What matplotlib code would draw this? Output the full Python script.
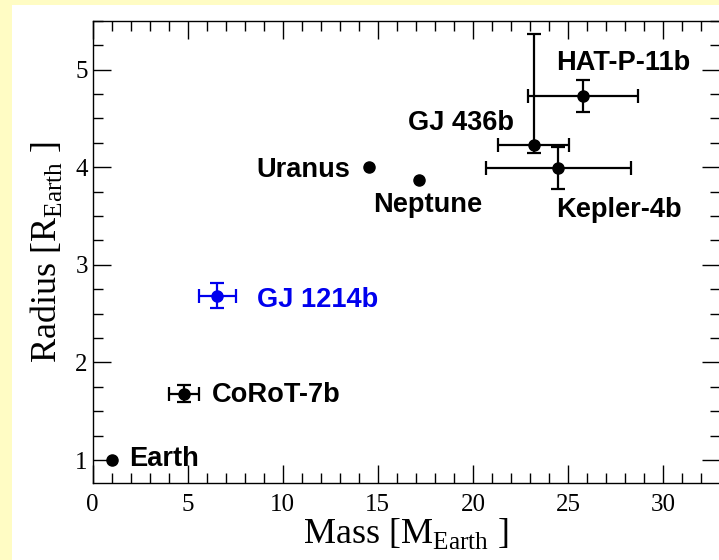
import numpy as np
import matplotlib
matplotlib.use("Agg")
import matplotlib.pyplot as plt
from matplotlib.patches import Rectangle
from matplotlib.ticker import MultipleLocator

plt.rcParams['font.family'] = 'Liberation Serif'
plt.rcParams['mathtext.fontset'] = 'custom'
plt.rcParams['mathtext.rm'] = 'Liberation Serif'

# planets: mass [M_Earth], radius [R_Earth] and errors
names = ["Earth", "CoRoT-7b", "GJ 1214b", "Uranus", "Neptune", "GJ 436b", "HAT-P-11b", "Kepler-4b"]
mass = [1.0, 4.8, 6.55, 14.54, 17.15, 23.2, 25.8, 24.5]
mass_err = [0, 0.8, 0.98, 0, 0, 1.87, 2.88, 3.8]
radius = [1.0, 1.68, 2.68, 4.0, 3.87, 4.23, 4.73, 3.99]
radius_err_lo = [0, 0.09, 0.12, 0, 0, 0.09, 0.16, 0.21]
radius_err_hi = [0, 0.09, 0.13, 0, 0, 1.13, 0.16, 0.22]
colors = ["k", "k", "#0000ee", "k", "k", "k", "k", "k"]
# where each name is written (left edge, baseline)
label_x = [1.91, 6.29, 8.66, 8.59, 14.74, 16.59, 24.37, 24.37]
label_y = [0.94, 1.597, 2.569, 3.90, 3.54, 4.38, 4.99, 3.49]

fig = plt.figure(figsize=(7.19, 5.6), dpi=100)
fig.patch.set_facecolor("#fffcc4")
fig.patches.append(Rectangle((12/719, 0), 1, 1-5/560, transform=fig.transFigure,
                             facecolor="white", edgecolor="none", zorder=-10))
ax = fig.add_axes([92.7/719, 1-483/560, (720-92.7)/719, (483-20.7)/560])

for i in range(len(names)):
    if mass_err[i] > 0:
        ax.errorbar(mass[i], radius[i], xerr=mass_err[i],
                    yerr=[[radius_err_lo[i]], [radius_err_hi[i]]],
                    fmt="o", color=colors[i], ms=8, elinewidth=1.6,
                    capsize=5, capthick=1.6)
    else:
        ax.plot(mass[i], radius[i], "o", color=colors[i], ms=8)
    ax.text(label_x[i], label_y[i], names[i], color=colors[i], fontsize=19.6,
            fontweight="bold", family="Liberation Sans", va="baseline", ha="left")

ax.set_xlim(0, 33)
ax.set_ylim(0.765, 5.5)
ax.xaxis.set_major_locator(MultipleLocator(5))
ax.xaxis.set_minor_locator(MultipleLocator(1))
ax.yaxis.set_major_locator(MultipleLocator(1))
ax.yaxis.set_minor_locator(MultipleLocator(0.25))
ax.tick_params(which="both", direction="in", top=True, right=True, labelsize=18)
ax.tick_params(which="major", length=13, width=1)
ax.tick_params(which="minor", length=7, width=1)
ax.tick_params(axis="x", pad=8)
for s in ax.spines.values():
    s.set_linewidth(1)

ax.set_xlabel(r"Mass [M$_{\mathrm{Earth}}$ ]", fontsize=26, labelpad=0)
ax.set_ylabel(r"Radius [R$_{\mathrm{Earth}}$ ]", fontsize=26, labelpad=8)

plt.savefig("out.png", dpi=100, facecolor=fig.get_facecolor())
